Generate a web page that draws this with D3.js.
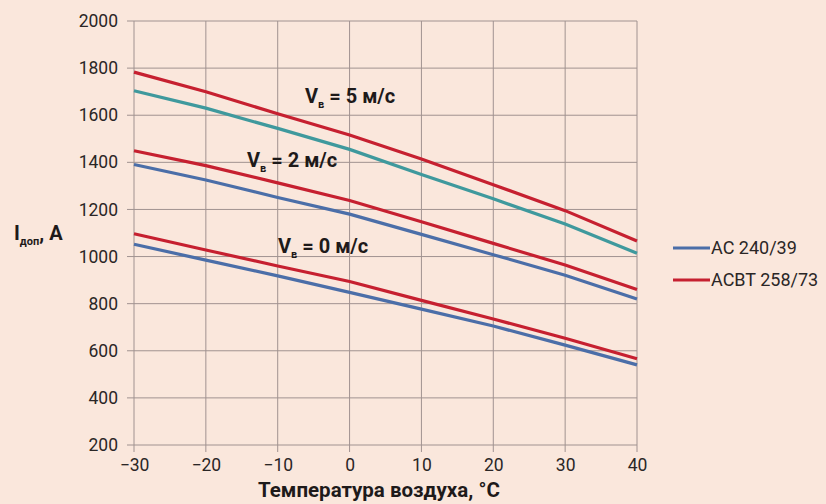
<!DOCTYPE html>
<html><head><meta charset="utf-8">
<script src="https://cdn.jsdelivr.net/npm/d3@7"></script>
<style>
html,body{margin:0;padding:0;background:#fae7dc;}
svg{display:block;font-family:Roboto,"DejaVu Sans",sans-serif;}
</style></head>
<body><svg id="chart" width="826" height="504"></svg>
<script>
const temps = [-30, -20, -10, 0, 10, 20, 30, 40];
const yTicks = [200, 400, 600, 800, 1000, 1200, 1400, 1600, 1800, 2000];
const xTicks = [-30, -20, -10, 0, 10, 20, 30, 40];

const ac_v0   = [1052, 985, 918, 848, 777, 705, 624, 540];
const ac_v2   = [1391, 1325, 1251, 1180, 1094, 1008, 921, 820];
const ac_v5   = [1704, 1630, 1544, 1455, 1348, 1245, 1138, 1014];
const acsr_v0 = [1097, 1028, 960, 894, 814, 735, 653, 566];
const acsr_v2 = [1449, 1386, 1313, 1238, 1148, 1056, 964, 860];
const acsr_v5 = [1783, 1700, 1606, 1516, 1414, 1305, 1195, 1066];

const seriesNames = ["АС 240/39", "АСВТ 258/73"];
const speedLabels = ["5", "2", "0"];

const colBlue = "#4b6ea8", colRed = "#c62030", colTeal = "#3f999d";

const svg = d3.select("#chart");
const x = d3.scaleLinear().domain([-30, 40]).range([134, 637]);
const y = d3.scaleLinear().domain([200, 2000]).range([445, 21]);

const g = svg.append("g");
// grid
g.selectAll(".hg").data(yTicks).join("line")
  .attr("x1", x(-30) - 7).attr("x2", x(40))
  .attr("y1", d => y(d)).attr("y2", d => y(d))
  .attr("stroke", "#a09290").attr("stroke-width", 1);
g.selectAll(".vg").data(xTicks).join("line")
  .attr("x1", d => x(d)).attr("x2", d => x(d))
  .attr("y1", y(2000)).attr("y2", y(200) + 7)
  .attr("stroke", "#a09290").attr("stroke-width", 1);

// axes labels via d3 axes
const yAxis = d3.axisLeft(y).tickValues(yTicks).tickSize(0).tickPadding(16).tickFormat(d3.format("d"));
const yg = svg.append("g").attr("transform", `translate(${x(-30)},0)`).call(yAxis);
yg.select(".domain").remove();
yg.selectAll("text").attr("font-size", 17.5).attr("fill", "#2a2626").attr("font-family", "Roboto,sans-serif");

const xAxis = d3.axisBottom(x).tickValues(xTicks).tickSize(0).tickPadding(14)
  .tickFormat(d => d < 0 ? "\u2212" + Math.abs(d) : String(d));
const xg = svg.append("g").attr("transform", `translate(0,${y(200)})`).call(xAxis);
xg.select(".domain").remove();
xg.selectAll("text").attr("font-size", 17.5).attr("fill", "#2a2626").attr("font-family", "Roboto,sans-serif");

// lines
const line = d3.line().x((d, i) => x(temps[i])).y(d => y(d));
const lines = [
  [ac_v0, colBlue], [acsr_v0, colRed],
  [ac_v2, colBlue], [acsr_v2, colRed],
  [ac_v5, colTeal], [acsr_v5, colRed]
];
svg.selectAll(".ln").data(lines).join("path")
  .attr("d", d => line(d[0])).attr("fill", "none")
  .attr("stroke", d => d[1]).attr("stroke-width", 3.2);

// speed labels
function vLabel(xp, yp, v) {
  const t = svg.append("text").attr("x", xp).attr("y", yp)
    .attr("font-size", 20).attr("font-weight", "bold").attr("fill", "#1e1a1a");
  t.append("tspan").text("V");
  t.append("tspan").attr("font-size", 11).attr("dy", 5).text("в");
  t.append("tspan").attr("dy", -5).text(" = " + v + " м/с");
}
vLabel(305, 103, speedLabels[0]);
vLabel(247, 167, speedLabels[1]);
vLabel(278, 253, speedLabels[2]);

// y title
const yt = svg.append("text").attr("x", 14).attr("y", 240)
  .attr("font-size", 20).attr("font-weight", "bold").attr("fill", "#1e1a1a");
yt.append("tspan").text("I");
yt.append("tspan").attr("font-size", 11).attr("dy", 5).text("доп");
yt.append("tspan").attr("dy", -5).text(", A");

// x title
svg.append("text").attr("x", 258).attr("y", 497)
  .attr("font-size", 20.5).attr("font-weight", "bold").attr("fill", "#1e1a1a")
  .text("Температура воздуха, °C");

// legend
const leg = svg.append("g");
const legCols = [colBlue, colRed];
seriesNames.forEach((n, i) => {
  const ly = 248 + i * 32;
  leg.append("line").attr("x1", 673).attr("x2", 710).attr("y1", ly).attr("y2", ly)
    .attr("stroke", legCols[i]).attr("stroke-width", 3.2);
  leg.append("text").attr("x", 711).attr("y", ly + 6).attr("font-size", 18)
    .attr("fill", "#2a2626").text(n);
});
</script></body></html>
